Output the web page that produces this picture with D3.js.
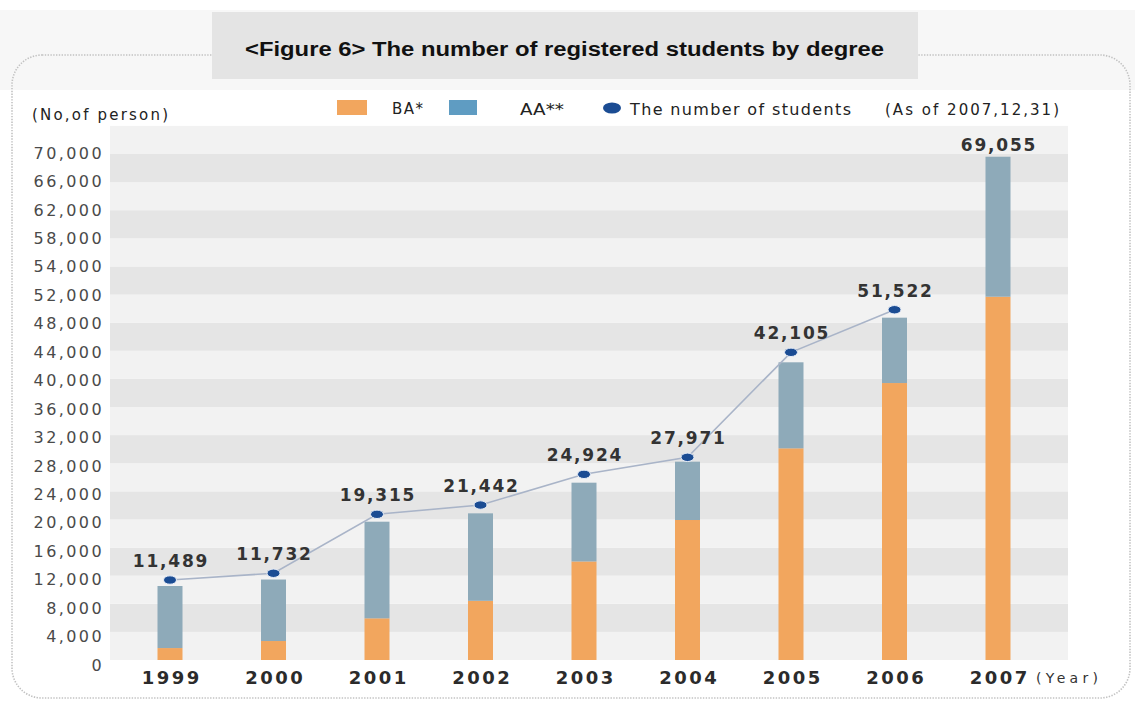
<!DOCTYPE html>
<html>
<head>
<meta charset="utf-8">
<script src="https://cdn.jsdelivr.net/npm/d3@7"></script>
<style>
  html, body { margin: 0; padding: 0; background: #fff; }
  svg { display: block; font-family: "DejaVu Sans", sans-serif; }
</style>
</head>
<body>
<div id="chart"></div>
<script>
// values (bars and dots as drawn, labels as printed)
var years = ["1999", "2000", "2001", "2002", "2003", "2004", "2005", "2006", "2007"];
var baValues = [1700, 2700, 5930, 8420, 14020, 19920, 30120, 39410, 51690];
var aaValues = [8830, 8750, 13750, 12450, 11210, 8300, 12240, 9300, 19920];
var dotValues = [11380, 12340, 20730, 22050, 26420, 28840, 43780, 49840, null];
var studentTotals = [11489, 11732, 19315, 21442, 24924, 27971, 42105, 51522, 69055];
var yTicks = [0, 4000, 8000, 12000, 16000, 20000, 24000, 28000, 32000, 36000,
              40000, 44000, 48000, 52000, 56000, 60000, 64000, 68000, 72000];
var yTickLabels = ["0", "4,000", "8,000", "12,000", "16,000", "20,000", "24,000", "28,000",
                   "32,000", "36,000", "40,000", "44,000", "48,000", "52,000", "54,000",
                   "58,000", "62,000", "66,000", "70,000"];

var W = 1135, H = 702;
var plot = {left: 110, right: 1068, top: 125, bottom: 660};

var svg = d3.select("#chart").append("svg")
  .attr("width", W).attr("height", H);

// pale top strip
svg.append("rect").attr("x", 0).attr("y", 10).attr("width", W).attr("height", 80)
  .attr("fill", "#f7f7f7");
svg.append("rect").attr("x", 13).attr("y", 90).attr("width", 1115).attr("height", 600)
  .attr("fill", "#fff");

// dotted rounded frame
svg.append("rect")
  .attr("x", 12).attr("y", 55).attr("width", 1118).attr("height", 643)
  .attr("rx", 30).attr("ry", 30)
  .attr("fill", "none")
  .attr("stroke", "#c2c2c2")
  .attr("stroke-width", 1.6)
  .attr("stroke-dasharray", "1.4,1.4");

// title box
svg.append("rect").attr("x", 212).attr("y", 12).attr("width", 706).attr("height", 67)
  .attr("fill", "#e4e4e4");
svg.append("text")
  .attr("x", 245).attr("y", 56)
  .attr("font-family", "'Liberation Sans', Arial, sans-serif")
  .attr("font-weight", "bold")
  .attr("font-size", "20px")
  .attr("fill", "#111")
  .attr("textLength", 639)
  .attr("lengthAdjust", "spacingAndGlyphs")
  .text("<Figure 6> The number of registered students by degree");

// scales
var x = d3.scalePoint().domain(years).range([170, 998]);
var y = d3.scaleLinear().domain([0, 72000]).range([plot.bottom, 154]);
var yLabelScale = y.copy().range([665, 153]);

// striped background
var bands = d3.range(19);
svg.append("g").selectAll("rect")
  .data(bands)
  .enter().append("rect")
    .attr("x", plot.left)
    .attr("width", plot.right - plot.left)
    .attr("y", function(i) { return y((i + 1) * 4000); })
    .attr("height", function(i) { return y(i * 4000) - y((i + 1) * 4000); })
    .attr("fill", function(i) { return i % 2 ? "#e5e5e5" : "#f2f2f2"; });

// y axis
var yAxis = svg.append("g")
  .attr("transform", "translate(104,0)")
  .call(d3.axisLeft(yLabelScale).tickValues(yTicks)
    .tickFormat(function(d, i) { return yTickLabels[i]; })
    .tickSize(0).tickPadding(0));
yAxis.select(".domain").remove();
yAxis.selectAll("text")
  .attr("font-family", "'DejaVu Sans', sans-serif")
  .attr("font-size", "16px")
  .attr("letter-spacing", "2.4px")
  .attr("fill", "#4a4a4a");

// x axis
var xAxis = svg.append("g")
  .attr("transform", "translate(0," + plot.bottom + ")")
  .call(d3.axisBottom(x).tickSize(0).tickPadding(0));
xAxis.select(".domain").remove();
xAxis.selectAll("text")
  .attr("y", 18).attr("dy", "0.36em")
  .attr("dx", "1.2px")
  .attr("font-family", "'DejaVu Sans', sans-serif")
  .attr("font-weight", "bold")
  .attr("font-size", "18px")
  .attr("letter-spacing", "2.4px")
  .attr("fill", "#2b2b2b");

svg.append("text")
  .attr("x", 1036).attr("y", 678).attr("dy", "0.36em")
  .attr("font-size", "14px").attr("fill", "#333")
  .attr("textLength", 62).attr("lengthAdjust", "spacing")
  .text("(Year)");

// stacked bars
var rows = years.map(function(yr, i) { return {year: yr, BA: baValues[i], AA: aaValues[i]}; });
var stack = d3.stack().keys(["BA", "AA"])(rows);
var barColor = {BA: "#f2a65e", AA: "#8eaab9"};
var barW = 25;

svg.append("g").selectAll("g")
  .data(stack)
  .enter().append("g")
    .attr("fill", function(s) { return barColor[s.key]; })
  .selectAll("rect")
  .data(function(s) { return s; })
  .enter().append("rect")
    .attr("x", function(d) { return x(d.data.year) - barW / 2; })
    .attr("y", function(d) { return y(d[1]); })
    .attr("height", function(d) { return y(d[0]) - y(d[1]); })
    .attr("width", barW);

// students line and dots
var dots = years.map(function(yr, i) { return {year: yr, v: dotValues[i]}; })
  .filter(function(d) { return d.v != null; });

svg.append("path")
  .datum(dots)
  .attr("fill", "none")
  .attr("stroke", "#a9b4c8")
  .attr("stroke-width", 1.6)
  .attr("d", d3.line()
    .x(function(d) { return x(d.year); })
    .y(function(d) { return y(d.v); }));

svg.append("g").selectAll("ellipse")
  .data(dots)
  .enter().append("ellipse")
    .attr("cx", function(d) { return x(d.year); })
    .attr("cy", function(d) { return y(d.v); })
    .attr("rx", 6.5).attr("ry", 4.2)
    .attr("fill", "#1b4c93")
    .attr("stroke", "#e8eef8").attr("stroke-width", 1);

// value labels
var fmt = d3.format(",");
svg.append("g").selectAll("text")
  .data(years)
  .enter().append("text")
    .attr("x", function(d) { return x(d) + 1; })
    .attr("y", function(d, i) {
      return dotValues[i] != null ? y(dotValues[i]) - 19 : y(baValues[i] + aaValues[i]) - 12;
    })
    .attr("dy", "0.36em")
    .attr("text-anchor", "middle")
    .attr("font-weight", "bold")
    .attr("font-size", "17px")
    .attr("letter-spacing", "1.8px")
    .attr("fill", "#333")
    .text(function(d, i) { return fmt(studentTotals[i]); });

// legend row
var legend = svg.append("g").attr("font-family", "'DejaVu Sans', sans-serif")
  .attr("font-size", "15px").attr("fill", "#222");

legend.append("text").attr("x", 32).attr("y", 115).attr("dy", "0.36em")
  .attr("textLength", 136).attr("lengthAdjust", "spacing")
  .text("(No,of person)");

legend.append("rect").attr("x", 337).attr("y", 100).attr("width", 30).attr("height", 15)
  .attr("fill", "#f2a65e");
legend.append("text").attr("x", 392).attr("y", 109).attr("dy", "0.36em")
  .attr("textLength", 31).attr("lengthAdjust", "spacing")
  .text("BA*");
legend.append("rect").attr("x", 449).attr("y", 100).attr("width", 28).attr("height", 15)
  .attr("fill", "#5f9cc2");
legend.append("text").attr("x", 520).attr("y", 109).attr("dy", "0.36em")
  .attr("font-size", "16px")
  .attr("textLength", 44).attr("lengthAdjust", "spacingAndGlyphs")
  .text("AA**");
legend.append("ellipse").attr("cx", 612).attr("cy", 108).attr("rx", 9).attr("ry", 5.5)
  .attr("fill", "#1b4c93");
legend.append("text").attr("x", 630).attr("y", 109).attr("dy", "0.36em")
  .attr("font-size", "16px")
  .attr("textLength", 221).attr("lengthAdjust", "spacing")
  .text("The number of students");
legend.append("text").attr("x", 885).attr("y", 110).attr("dy", "0.36em")
  .attr("textLength", 174).attr("lengthAdjust", "spacing")
  .text("(As of 2007,12,31)");
</script>
</body>
</html>
